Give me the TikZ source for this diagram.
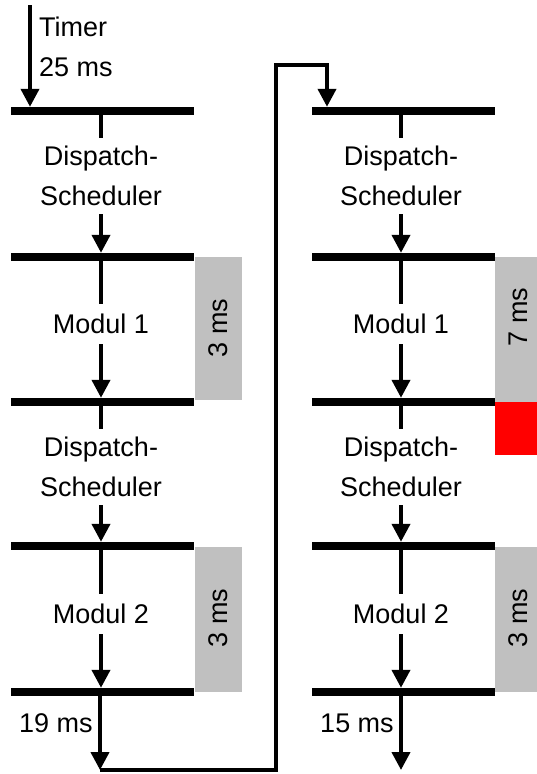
\documentclass[tikz,border=0pt]{standalone}
\usepackage{fontspec}
\setmainfont{Liberation Sans}
\usetikzlibrary{arrows.meta}

\definecolor{slotgray}{HTML}{C0C0C0}
\definecolor{overrun}{HTML}{FF0000}

\tikzset{
  lbl/.style={font=\fontsize{27}{40}\selectfont, inner sep=0pt, align=center},
  stagetxt/.style={lbl, inner xsep=2pt, inner ysep=8pt},
  bar/.style={fill=black, inner sep=0pt, minimum height=8pt},
  lbar/.style={bar, minimum width=183pt},
  rbar/.style={bar, minimum width=183pt},
  slot/.style={fill=slotgray, inner sep=0pt, draw=none},
  lateslot/.style={fill=overrun, inner sep=0pt, draw=none},
  wire/.style={line width=4pt},
  flow/.style={wire, -{Triangle[width=18pt,length=18pt]}},
  loopwire/.style={line width=4pt, line join=miter, -{Triangle[width=18pt,length=18pt]}},
}

\begin{document}
\begin{tikzpicture}[x=1pt, y=-1pt]
  \useasboundingbox (0,0) rectangle (537,774);

  % ---- time slots beside the tasks ----
  \node[slot, minimum width=47pt, minimum height=143pt] (g1) at (218.5,328.5) {};
  \node[slot, minimum width=47pt, minimum height=145pt] (g2) at (218.5,619.5) {};
  \node[slot, minimum width=42pt, minimum height=145pt] (g3) at (516,329.5) {};
  \node[lateslot, minimum width=42pt, minimum height=53pt] (red) at (516,428.5) {};
  \node[slot, minimum width=42pt, minimum height=145pt] (g4) at (516,619.5) {};

  \node[lbl, rotate=90] (t1) at (218,328) {3 ms};
  \node[lbl, rotate=90] (t2) at (218,618) {3 ms};
  \node[lbl, rotate=90] (t3) at (518,317) {7 ms};
  \node[lbl, rotate=90] (t4) at (518,618) {3 ms};

  % ---- left cycle ----
  \node[lbar] (L1) at (102.5,111) {};
  \node[lbar] (L2) at (102.5,257) {};
  \node[lbar] (L3) at (102.5,402) {};
  \node[lbar] (L4) at (102.5,546) {};
  \node[lbar] (L5) at (102.5,692) {};

  \node[stagetxt] (LD1) at (101,176) {Dispatch-\\Scheduler};
  \node[stagetxt, inner ysep=10pt] (LM1) at (101,324) {Modul 1};
  \node[stagetxt] (LD2) at (101,467) {Dispatch-\\Scheduler};
  \node[stagetxt, inner ysep=10pt] (LM2) at (101,614) {Modul 2};

  % ---- right cycle ----
  \node[rbar] (R1) at (403.5,111) {};
  \node[rbar] (R2) at (403.5,257) {};
  \node[rbar] (R3) at (403.5,402) {};
  \node[rbar] (R4) at (403.5,546) {};
  \node[rbar] (R5) at (403.5,692) {};

  \node[stagetxt] (RD1) at (401,176) {Dispatch-\\Scheduler};
  \node[stagetxt, inner ysep=10pt] (RM1) at (401,324) {Modul 1};
  \node[stagetxt] (RD2) at (401,467) {Dispatch-\\Scheduler};
  \node[stagetxt, inner ysep=10pt] (RM2) at (401,614) {Modul 2};

  % ---- timer input ----
  \node[lbl, align=left, anchor=north west] (timer) at (39,17) {Timer\\25 ms};
  \coordinate (tin) at (30,5);
  \draw[flow] (tin) -- (tin |- L1.north);

  % ---- elapsed times ----
  \node[lbl] (Lt) at (56,723) {19 ms};
  \node[lbl] (Rt) at (357,723) {15 ms};

  % ---- left column flow ----
  \foreach \up/\txt/\down in {L1/LD1/L2, L2/LM1/L3, L3/LD2/L4, L4/LM2/L5}{
    \draw[wire] (\txt.north |- \up.south) -- (\txt.north);
    \draw[flow] (\txt.south) -- (\txt.south |- \down.north);
  }
  \coordinate (Lend) at (100,770);
  \draw[flow] (Lend |- L5.south) -- (Lend);

  % ---- right column flow ----
  \foreach \up/\txt/\down in {R1/RD1/R2, R2/RM1/R3, R3/RD2/R4, R4/RM2/R5}{
    \draw[wire] (\txt.north |- \up.south) -- (\txt.north);
    \draw[flow] (\txt.south) -- (\txt.south |- \down.north);
  }
  \coordinate (Rend) at (401,770);
  \draw[flow] (Rend |- R5.south) -- (Rend);

  % ---- return path into the next cycle ----
  \coordinate (loopTop) at (276,65);
  \coordinate (rin) at (327,0);
  \draw[loopwire] (Lend) -| (loopTop) -| (rin |- R1.north);
\end{tikzpicture}
\end{document}
